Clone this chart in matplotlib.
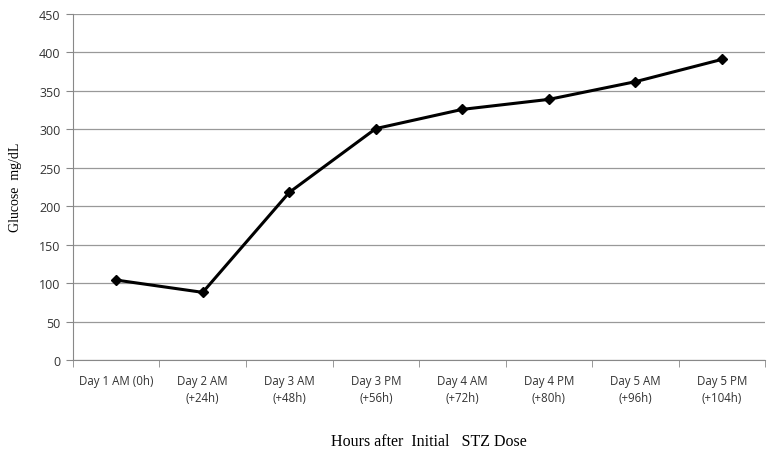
import matplotlib
matplotlib.use("Agg")
import matplotlib.pyplot as plt
import numpy as np

# data
categories = ["Day 1 AM (0h)", "Day 2 AM\n(+24h)", "Day 3 AM\n(+48h)", "Day 3 PM\n(+56h)",
              "Day 4 AM\n(+72h)", "Day 4 PM\n(+80h)", "Day 5 AM\n(+96h)", "Day 5 PM\n(+104h)"]
glucose = [104, 88, 218, 301, 326, 339, 362, 391]
y_ticks = [0, 50, 100, 150, 200, 250, 300, 350, 400, 450]

fig = plt.figure(figsize=(7.76, 4.56), dpi=100)
ax = fig.add_axes([0.094, 0.2083, 0.892, 0.7587])

x = np.arange(len(categories))
ax.plot(x, glucose, color="black", lw=2.2, marker="D", ms=5, mfc="black", mec="black", zorder=3)

ax.set_xlim(-0.5, len(categories) - 0.5)
ax.set_ylim(0, 450)
ax.set_yticks(y_ticks)
ax.set_yticklabels([str(v) for v in y_ticks], fontsize=9, color="#333333", family="Open Sans")
ax.set_xticks(x)
ax.set_xticklabels(categories, fontsize=8.3, color="#333333", family="Open Sans", linespacing=1.4)
ax.tick_params(axis="x", length=0, pad=10)
ax.set_xticks(np.arange(-0.5, len(categories)), minor=True)
ax.tick_params(axis="x", which="minor", length=5, color="#888888")
ax.tick_params(axis="y", length=5, color="#888888", pad=4)

ax.grid(axis="y", color="#999999", lw=0.9)
ax.set_axisbelow(True)
for s in ["top", "right"]:
    ax.spines[s].set_visible(False)
for s in ["left", "bottom"]:
    ax.spines[s].set_color("#888888")

fig.text(0.02, 0.59, "Glucose  mg/dL", rotation=90, ha="center", va="center",
         fontsize=10, family="Liberation Serif")
fig.text(0.553, 0.03, "Hours after  Initial   STZ Dose", ha="center", va="center",
         fontsize=11.5, family="Liberation Serif")

fig.savefig("out.png", dpi=100, facecolor="white")
